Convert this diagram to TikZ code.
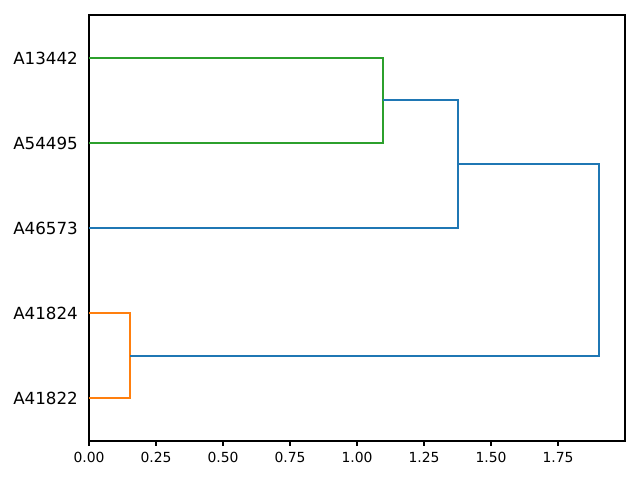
\documentclass[tikz,border=0pt]{standalone}
\usepackage{fontspec}
\setmainfont{DejaVu Sans}
\usetikzlibrary{positioning}

\definecolor{mplblue}{HTML}{1F77B4}
\definecolor{mplorange}{HTML}{FF7F0E}
\definecolor{mplgreen}{HTML}{2CA02C}

\begin{document}
\begin{tikzpicture}[
    x=1pt, y=-1pt,
    frame/.style={line width=1.1pt, draw=black},
    link/.style={line width=2pt, line cap=butt},
    ticklabel/.style={inner sep=0pt, anchor=base, font=\fontsize{13.9}{16}\selectfont},
    leaflabel/.style={inner sep=0pt, anchor=base east, font=\fontsize{16.7}{19}\selectfont}
]
    \useasboundingbox (0,0) rectangle (640,480);

    % Axes frame
    \draw[frame] (89,15) rectangle (625,441);

    % x ticks
    \foreach \v/\txt [count=\i] in {0/0.00, 0.25/0.25, 0.5/0.50, 0.75/0.75, 1/1.00, 1.25/1.25, 1.5/1.50, 1.75/1.75} {
        \draw[frame] ({89+268*\v},441) -- ({89+268*\v},446);
        \node[ticklabel] (tick\i) at ({89+268*\v},462.3) {\txt};
    }

    % Leaves
    \foreach \y/\name [count=\i] in {57.6/A13442, 142.8/A54495, 228/A46573, 313.2/A41824, 398.4/A41822} {
        \coordinate (leaf\i) at (89,\y);
        \node[leaflabel] (lab\i) at (78,{\y+6.5}) {\name};
    }

    % Merge points
    \coordinate (m1) at (383,100.2);
    \coordinate (m2) at (458,164.1);
    \coordinate (m3) at (130,355.8);
    \coordinate (m4) at (599,260);

    % Links
    \draw[link, mplgreen] (leaf1) -| (m1) |- (leaf2);
    \draw[link, mplorange] (leaf4) -| (m3) |- (leaf5);
    \draw[link, mplblue] (m1) -| (m2) |- (leaf3);
    \draw[link, mplblue] (m2) -| (m4 |- m2) -- (m4 |- m3) -- (m3);

\end{tikzpicture}
\end{document}
